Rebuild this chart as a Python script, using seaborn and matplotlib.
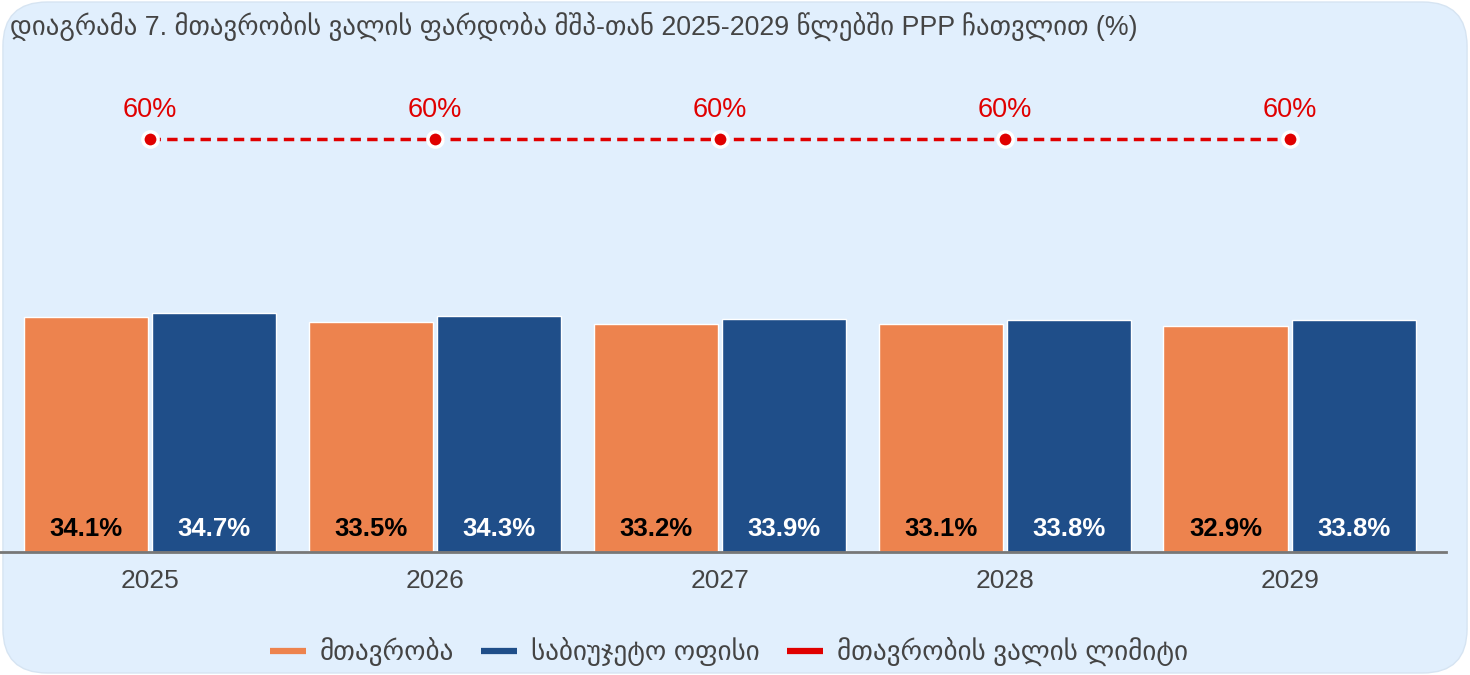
import pandas as pd
import matplotlib.pyplot as plt
import seaborn as sns
from matplotlib.patches import FancyBboxPatch
from matplotlib.lines import Line2D

years = ['2025', '2026', '2027', '2028', '2029']
government = [34.1, 33.5, 33.2, 33.1, 32.9]
subject_office = [34.7, 34.3, 33.9, 33.8, 33.8]
debt_limit = [60, 60, 60, 60, 60]

series_names = ['მთავრობა', 'საბიუჯეტო ოფისი', 'მთავრობის ვალის ლიმიტი']
title = 'დიაგრამა 7. მთავრობის ვალის ფარდობა მშპ-თან 2025-2029 წლებში PPP ჩათვლით (%)'

orange = '#ED834E'
blue = '#1F4E89'
red = '#E00000'
bg = '#E1EFFD'

sns.set_style('white')
plt.rcParams['font.family'] = ['Liberation Sans', 'DejaVu Sans']

df = pd.DataFrame({
    'year': years * 2,
    'value': government + subject_office,
    'series': [series_names[0]] * 5 + [series_names[1]] * 5,
})

fig = plt.figure(figsize=(14.7, 6.75), dpi=100)
fig.patch.set_facecolor('white')
card = FancyBboxPatch((0.002, 0.003), 0.996, 0.994,
                      boxstyle='round,pad=0,rounding_size=0.03',
                      transform=fig.transFigure, facecolor=bg,
                      edgecolor='#D6E4F2', linewidth=1, mutation_aspect=2.18, zorder=-10)
fig.patches.append(card)

ax = fig.add_axes([0.0, 0.182, 0.984, 0.729])
ax.set_facecolor('none')

sns.barplot(data=df, x='year', y='value', hue='series', palette=[orange, blue],
            width=0.9, gap=0.03, saturation=1, ax=ax, legend=False)

# value labels at the bottom of each bar
for cont, col in zip(ax.containers, ['black', 'white']):
    for bar, val in zip(cont, cont.datavalues):
        ax.text(bar.get_x() + bar.get_width() / 2, 3.4, f'{val:.1f}%',
                ha='center', va='center', color=col, fontsize=18.5, fontweight='bold')

sns.pointplot(x=years, y=debt_limit, color=red, linestyles='--', markers='o',
              markersize=11, linewidth=2.5, markeredgecolor='white',
              markeredgewidth=2.5, ax=ax, zorder=5)
for ln in ax.lines:
    ln.set_dashes([3.0, 1.8])
for i, v in enumerate(debt_limit):
    ax.annotate(f'{v}%', (i, v), xytext=(0, 12), textcoords='offset points',
                ha='center', va='bottom', color=red, fontsize=19.5)

ax.set_xlim(-0.527, 4.55)
ax.set_ylim(0, 71.5)
ax.set_xlabel('')
ax.set_ylabel('')
ax.set_yticks([])
for s in ['top', 'right', 'left']:
    ax.spines[s].set_visible(False)
ax.spines['bottom'].set_color('#777777')
ax.spines['bottom'].set_linewidth(2)
ax.tick_params(axis='x', length=0, pad=12, labelsize=19, labelcolor='#444444')

handles = [Line2D([0], [0], color=c, lw=4.5, solid_capstyle='butt') for c in [orange, blue, red]]
fig.legend(handles, series_names, loc='center', bbox_to_anchor=(0.496, 0.034),
           ncol=3, frameon=False, fontsize=19.5, labelcolor='#444444',
           handlelength=1.33, columnspacing=1.0, handletextpad=0.52)

fig.text(0.007, 0.96, title, fontsize=19.3, color='#444444', ha='left', va='center')

fig.savefig('out.png', dpi=100, facecolor=fig.get_facecolor())
